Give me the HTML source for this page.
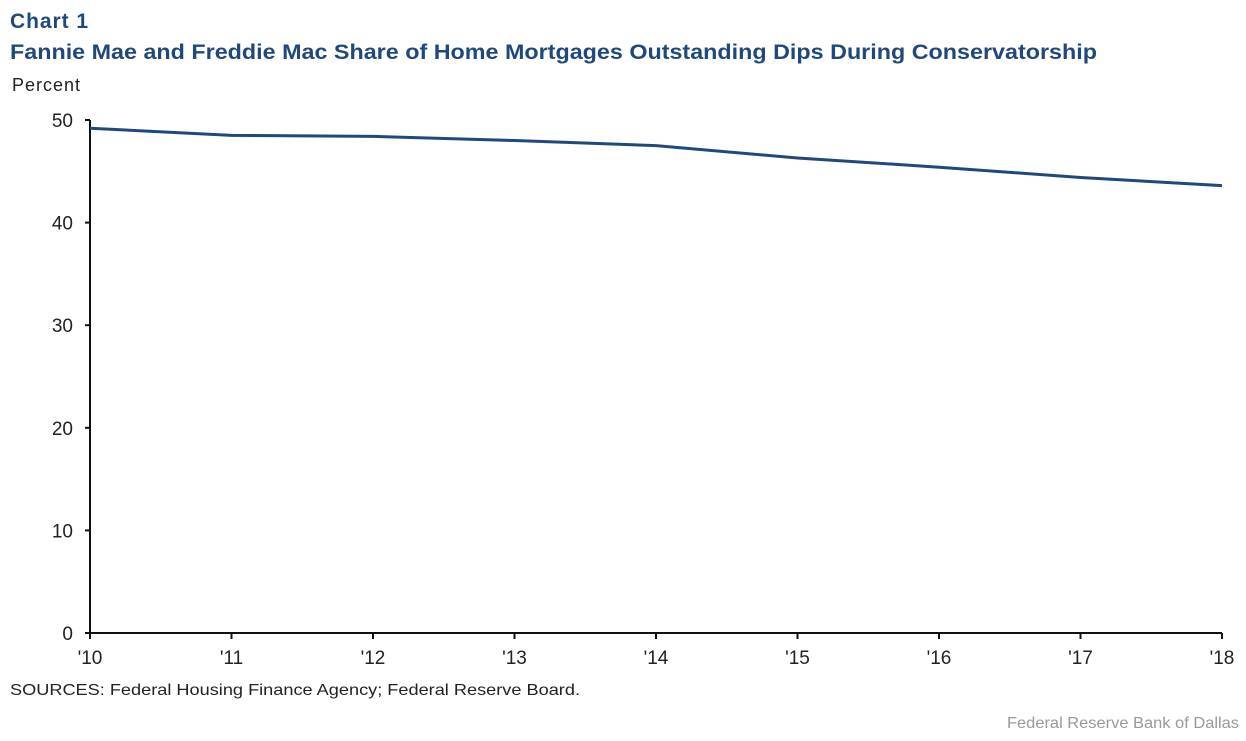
<!DOCTYPE html>
<html><head><meta charset="utf-8"><style>
body{margin:0;background:#fff;font-family:"Liberation Sans",Arial,sans-serif;}
svg text{font-family:"Liberation Sans",Arial,sans-serif;}
</style></head><body>
<svg width="1246" height="736" xmlns="http://www.w3.org/2000/svg">
<text x="10" y="28" font-size="21" font-weight="bold" fill="#1f497d" textLength="78">Chart 1</text>
<text x="10" y="59" font-size="21" font-weight="bold" fill="#1f497d" textLength="1087" lengthAdjust="spacingAndGlyphs">Fannie Mae and Freddie Mac Share of Home Mortgages Outstanding Dips During Conservatorship</text>
<text x="12" y="91" font-size="18" fill="#222" textLength="68">Percent</text>
<g id="axes"></g>
<g id="series"></g>
<text x="10" y="695" font-size="16" fill="#222" textLength="570" lengthAdjust="spacingAndGlyphs">SOURCES: Federal Housing Finance Agency; Federal Reserve Board.</text>
<text x="1007" y="728" font-size="16" fill="#999" textLength="232" lengthAdjust="spacingAndGlyphs">Federal Reserve  Bank of Dallas</text>
</svg>
<script>
const categories=["'10","'11","'12","'13","'14","'15","'16","'17","'18"];
const shareValues=[49.2,48.5,48.4,48.0,47.5,46.3,45.4,44.4,43.6];
const yTicks=[0,10,20,30,40,50];
const NS="http://www.w3.org/2000/svg";
const x0=90,x1=1222,yB=633,yT=120;
const xs=i=>x0+(x1-x0)*i/(categories.length-1);
const ys=v=>yB-(yB-yT)*v/50;
const ax=document.getElementById('axes'),se=document.getElementById('series');
function mk(tag,attrs,parent,text){const e=document.createElementNS(NS,tag);for(const k in attrs)e.setAttribute(k,attrs[k]);if(text!==undefined)e.textContent=text;parent.appendChild(e);return e;}
let e=mk('line',{x1:x0,y1:yT,x2:x0,y2:yB,stroke:'#111','stroke-width':2},ax);

e=mk('line',{x1:x0-5,y1:yB,x2:x1,y2:yB,stroke:'#111','stroke-width':2},ax);

yTicks.forEach(v=>{
 const t=mk('line',{x1:x0-5,y1:ys(v),x2:x0,y2:ys(v),stroke:'#111','stroke-width':2},ax);
 
 const l=mk('text',{x:73,y:ys(v)+7,'font-size':19,'text-anchor':'end',fill:'#222'},ax,String(v));
 
});
categories.forEach((c,i)=>{
 const t=mk('line',{x1:xs(i),y1:yB,x2:xs(i),y2:yB+6,stroke:'#111','stroke-width':2},ax);
 
 const l=mk('text',{x:xs(i),y:yB+31,'font-size':19,'text-anchor':'middle',fill:'#222'},ax,c);
 
});
const p=mk('polyline',{points:shareValues.map((v,i)=>xs(i)+','+ys(v)).join(' '),fill:'none',stroke:'#1f497d','stroke-width':3,'stroke-linejoin':'round'},se);

</script>
</body></html>
